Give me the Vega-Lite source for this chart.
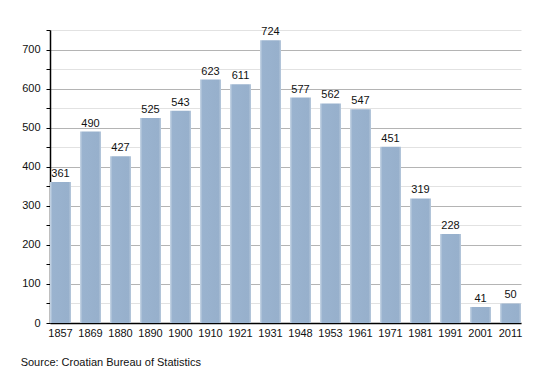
{
  "$schema": "https://vega.github.io/schema/vega-lite/v6.json",
  "autosize": "none",
  "width": 471,
  "height": 293,
  "padding": {"left": 50, "top": 30, "right": 29, "bottom": 50},
  "background": "white",
  "config": {
    "font": "Liberation Sans",
    "view": {"stroke": null}
  },
  "title": {
    "text": "Source: Croatian Bureau of Statistics",
    "orient": "bottom",
    "anchor": "start",
    "fontSize": 11,
    "fontWeight": "normal",
    "color": "#111",
    "dx": -1,
    "offset": 19,
    "font": "Liberation Sans"
  },
  "data": {
    "values": [
      {"year": "1857", "pop": 361},
      {"year": "1869", "pop": 490},
      {"year": "1880", "pop": 427},
      {"year": "1890", "pop": 525},
      {"year": "1900", "pop": 543},
      {"year": "1910", "pop": 623},
      {"year": "1921", "pop": 611},
      {"year": "1931", "pop": 724},
      {"year": "1948", "pop": 577},
      {"year": "1953", "pop": 562},
      {"year": "1961", "pop": 547},
      {"year": "1971", "pop": 451},
      {"year": "1981", "pop": 319},
      {"year": "1991", "pop": 228},
      {"year": "2001", "pop": 41},
      {"year": "2011", "pop": 50}
    ]
  },
  "encoding": {
    "x": {
      "field": "year",
      "type": "ordinal",
      "sort": null,
      "scale": {"paddingInner": 0.3, "paddingOuter": 0},
      "axis": {
        "title": null,
        "labelAngle": 0,
        "labelFontSize": 11,
        "labelColor": "#111",
        "ticks": false,
        "labelPadding": 4,
        "domainColor": "#000",
        "domainWidth": 1.5
      }
    },
    "y": {
      "field": "pop",
      "type": "quantitative",
      "scale": {"domain": [0, 750], "nice": false},
      "axis": {
        "title": null,
        "values": [0, 50, 100, 150, 200, 250, 300, 350, 400, 450, 500, 550, 600, 650, 700, 750],
        "labelExpr": "datum.value % 100 === 0 ? datum.label : ''",
        "labelFontSize": 11,
        "labelColor": "#111",
        "labelPadding": 6,
        "tickSize": 4,
        "tickColor": "#000",
        "domainColor": "#000",
        "domainWidth": 1.5,
        "grid": true,
        "gridColor": {"condition": {"test": "datum.value % 100 === 0", "value": "#b4b4b4"}, "value": "#e2e2e2"},
        "gridWidth": 1
      }
    }
  },
  "layer": [
    {
      "mark": {
        "type": "bar",
        "color": {
          "gradient": "linear",
          "x1": 0, "x2": 1, "y1": 0, "y2": 0,
          "stops": [
            {"offset": 0, "color": "#c9d7e6"},
            {"offset": 0.12, "color": "#9ab3cf"},
            {"offset": 0.88, "color": "#97b0cc"},
            {"offset": 1, "color": "#b8c9dc"}
          ]
        }
      }
    },
    {
      "mark": {"type": "text", "dy": -3, "fontSize": 11, "color": "#111", "baseline": "bottom"},
      "encoding": {"text": {"field": "pop", "type": "quantitative"}}
    }
  ]
}
